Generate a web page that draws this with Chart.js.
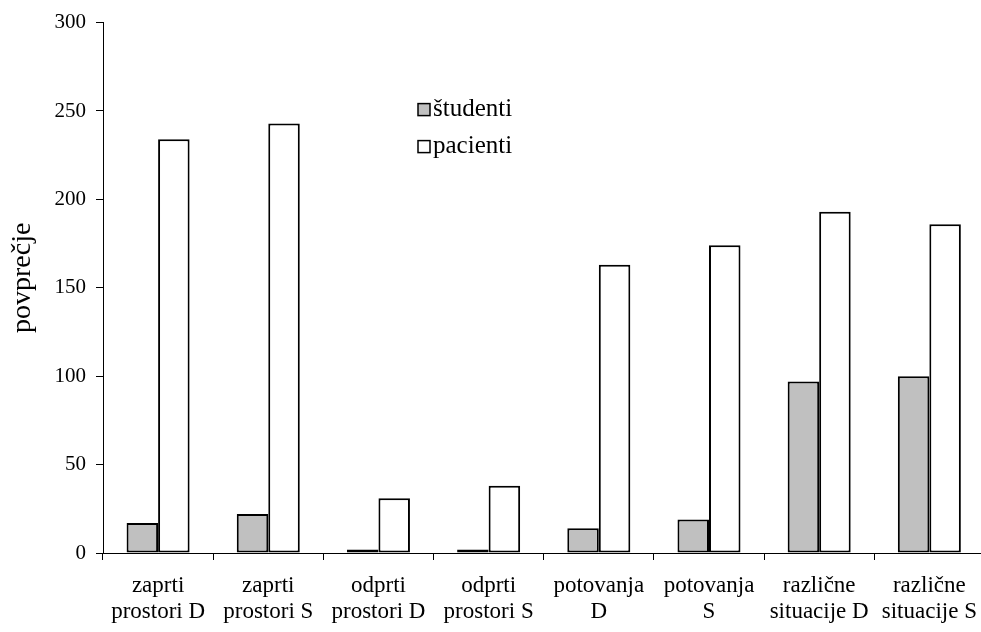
<!DOCTYPE html>
<html>
<head>
<meta charset="utf-8">
<script src="https://cdn.jsdelivr.net/npm/chart.js@4.4.1/dist/chart.umd.min.js"></script>
<style>
  html, body { margin: 0; padding: 0; background: #fff; overflow: hidden; }
  #wrap { width: 990px; height: 632px; position: relative; }
</style>
</head>
<body>
<div id="wrap"><canvas id="chart"></canvas></div>
<script>
// kategorije (dve vrstici na oznako)
const categories = [
  ["zaprti", "prostori D"],
  ["zaprti", "prostori S"],
  ["odprti", "prostori D"],
  ["odprti", "prostori S"],
  ["potovanja", "D"],
  ["potovanja", "S"],
  ["različne", "situacije D"],
  ["različne", "situacije S"]
];
const studenti = [17, 22, 2, 2, 14, 19, 97, 100];
const pacienti = [234, 243, 31, 38, 163, 174, 193, 186];
const yTicks = [0, 50, 100, 150, 200, 250, 300];
const yTitle = "povprečje";

const FONT = "'Liberation Serif', 'Times New Roman', serif";

// legenda znotraj grafa + navpični naslov osi
const extras = {
  id: "extras",
  afterDraw(chart) {
    const ctx = chart.ctx;
    const a = chart.chartArea;
    const x = a.left + 315;
    let y = a.top + 87;
    ctx.save();
    ctx.font = "25px " + FONT;
    ctx.textBaseline = "middle";
    chart.data.datasets.forEach((ds) => {
      ctx.fillStyle = ds.backgroundColor;
      ctx.fillRect(x, y - 6, 12, 12);
      ctx.strokeStyle = "#000";
      ctx.lineWidth = 1.5;
      ctx.strokeRect(x, y - 6, 12, 12);
      ctx.fillStyle = "#000";
      ctx.fillText(ds.label, x + 15, y);
      y += 37;
    });

    ctx.translate(23, (a.top + a.bottom) / 2 - 10);
    ctx.rotate(-Math.PI / 2);
    ctx.textAlign = "center";
    ctx.font = "28px " + FONT;
    ctx.fillText(yTitle, 0, 0);
    ctx.restore();
  }
};

new Chart(document.getElementById("chart"), {
  type: "bar",
  data: {
    labels: categories,
    datasets: [
      {
        label: "študenti",
        data: studenti,
        backgroundColor: "#c0c0c0",
        borderColor: "#000",
        borderWidth: 2,
        borderSkipped: false
      },
      {
        label: "pacienti",
        data: pacienti,
        backgroundColor: "#ffffff",
        borderColor: "#000",
        borderWidth: 2,
        borderSkipped: false
      }
    ]
  },
  options: {
    responsive: true,
    maintainAspectRatio: false,
    animation: false,
    categoryPercentage: 0.572,
    barPercentage: 1,
    layout: { padding: { top: 20, right: 1, bottom: 0, left: 0 } },
    plugins: {
      legend: { display: false },
      tooltip: { enabled: false }
    },
    scales: {
      x: {
        grid: { drawOnChartArea: false, offset: true, tickLength: 7, color: "#000" },
        border: { color: "#000", width: 1 },
        ticks: {
          color: "#000",
          maxRotation: 0,
          autoSkip: false,
          padding: 13,
          font: { family: FONT, size: 23, lineHeight: 1.13 }
        },
        afterFit(scale) { scale.height = 79; }
      },
      y: {
        min: 0,
        max: 300,
        afterBuildTicks(scale) { scale.ticks = yTicks.map((v) => ({ value: v })); },
        grid: { drawOnChartArea: false, tickLength: 7, color: "#000" },
        border: { color: "#000", width: 1 },
        ticks: {
          color: "#000",
          padding: 10,
          font: { family: FONT, size: 21 }
        },
        afterFit(scale) { scale.width = 103; }
      }
    }
  },
  plugins: [extras]
});
</script>
</body>
</html>
